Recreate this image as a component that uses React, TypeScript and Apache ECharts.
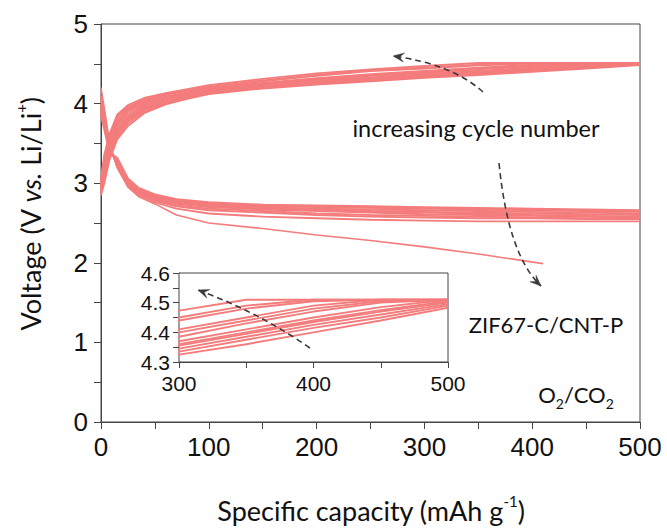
import React, { useEffect, useRef } from 'react';
import * as echarts from 'echarts';

// Charge curves (capacity in mAh g-1, voltage in V), cycle 1 (lowest) -> last (highest)
const chargeCapacity = [0, 3, 8, 15, 25, 40, 60, 80, 100, 150, 200, 250, 300, 350, 400, 450, 500];
const chargeCycles: number[][] = [
  [2.85, 3.0, 3.3, 3.55, 3.72, 3.88, 3.99, 4.06, 4.12, 4.19, 4.24, 4.28, 4.325, 4.36, 4.4, 4.44, 4.483],
  [2.88, 3.04, 3.34, 3.58, 3.75, 3.9, 4.0, 4.07, 4.13, 4.2, 4.25, 4.29, 4.335, 4.375, 4.415, 4.45, 4.49],
  [2.9, 3.08, 3.37, 3.61, 3.78, 3.92, 4.01, 4.08, 4.13, 4.2, 4.26, 4.3, 4.345, 4.385, 4.425, 4.46, 4.495],
  [2.92, 3.1, 3.4, 3.64, 3.8, 3.94, 4.02, 4.09, 4.14, 4.21, 4.27, 4.31, 4.355, 4.395, 4.435, 4.47, 4.5],
  [2.93, 3.12, 3.42, 3.66, 3.82, 3.95, 4.03, 4.1, 4.15, 4.22, 4.28, 4.32, 4.36, 4.4, 4.44, 4.475, 4.505],
  [2.95, 3.15, 3.45, 3.69, 3.84, 3.97, 4.05, 4.11, 4.16, 4.23, 4.29, 4.33, 4.37, 4.41, 4.45, 4.485, 4.51],
  [2.97, 3.18, 3.48, 3.72, 3.87, 3.99, 4.06, 4.12, 4.17, 4.24, 4.3, 4.35, 4.385, 4.43, 4.47, 4.5, 4.51],
  [2.98, 3.21, 3.51, 3.75, 3.9, 4.01, 4.08, 4.13, 4.18, 4.25, 4.31, 4.36, 4.4, 4.44, 4.48, 4.505, 4.51],
  [3.0, 3.24, 3.54, 3.78, 3.92, 4.02, 4.09, 4.14, 4.19, 4.26, 4.32, 4.37, 4.41, 4.45, 4.49, 4.51, 4.51],
  [3.02, 3.28, 3.57, 3.81, 3.94, 4.04, 4.11, 4.16, 4.2, 4.28, 4.35, 4.41, 4.44, 4.48, 4.505, 4.51, 4.51],
  [3.03, 3.31, 3.6, 3.84, 3.96, 4.05, 4.12, 4.17, 4.21, 4.29, 4.36, 4.42, 4.45, 4.49, 4.51, 4.51, 4.51],
  [3.05, 3.35, 3.62, 3.86, 3.98, 4.07, 4.13, 4.18, 4.23, 4.31, 4.38, 4.43, 4.473, 4.51, 4.51, 4.51, 4.51],
];

// Discharge curves
const dischargeCapacity = [0, 3, 8, 15, 25, 35, 50, 70, 100, 150, 200, 250, 300, 350, 400, 450, 500];
const dischargeCycles: number[][] = [
  [4.1, 3.9, 3.48, 3.2, 2.96, 2.85, 2.76, 2.68, 2.62, 2.58, 2.56, 2.54, 2.53, 2.52, 2.52, 2.52, 2.52],
  [4.05, 3.88, 3.46, 3.22, 2.98, 2.86, 2.78, 2.71, 2.66, 2.63, 2.6, 2.58, 2.57, 2.56, 2.56, 2.55, 2.55],
  [4.0, 3.85, 3.45, 3.23, 2.99, 2.87, 2.79, 2.72, 2.68, 2.65, 2.62, 2.6, 2.59, 2.58, 2.57, 2.56, 2.56],
  [3.98, 3.82, 3.44, 3.25, 3.0, 2.88, 2.8, 2.74, 2.7, 2.67, 2.65, 2.63, 2.61, 2.6, 2.59, 2.58, 2.57],
  [3.95, 3.8, 3.43, 3.26, 3.01, 2.89, 2.81, 2.75, 2.71, 2.68, 2.66, 2.64, 2.63, 2.62, 2.6, 2.59, 2.58],
  [3.93, 3.78, 3.42, 3.27, 3.02, 2.9, 2.82, 2.76, 2.72, 2.69, 2.67, 2.65, 2.64, 2.63, 2.62, 2.61, 2.6],
  [3.9, 3.75, 3.41, 3.28, 3.03, 2.91, 2.83, 2.77, 2.73, 2.7, 2.68, 2.67, 2.66, 2.65, 2.64, 2.63, 2.62],
  [3.88, 3.72, 3.4, 3.3, 3.04, 2.92, 2.84, 2.78, 2.74, 2.71, 2.7, 2.69, 2.68, 2.67, 2.66, 2.65, 2.64],
  [3.86, 3.7, 3.39, 3.31, 3.05, 2.93, 2.85, 2.79, 2.75, 2.72, 2.71, 2.7, 2.69, 2.68, 2.67, 2.66, 2.65],
  [3.85, 3.68, 3.38, 3.32, 3.06, 2.94, 2.86, 2.8, 2.76, 2.73, 2.72, 2.71, 2.7, 2.69, 2.68, 2.67, 2.66],
];
const firstDischargeCapacity = [0, 3, 8, 15, 25, 35, 50, 70, 100, 150, 200, 250, 300, 350, 410];
const firstDischargeVoltage = [4.2, 3.95, 3.5, 3.2, 2.95, 2.83, 2.74, 2.6, 2.5, 2.43, 2.35, 2.28, 2.2, 2.11, 1.99];

// Tick labels
const mainXLabels = [0, 100, 200, 300, 400, 500];
const mainYLabels = [0, 1, 2, 3, 4, 5];
const insetXLabels = [300, 400, 500];
const insetYLabels = ['4.3', '4.4', '4.5', '4.6'];

const CURVE = '#F47C7C';
const AXIS = '#444';
const TXT = '#111';
const NUM_FONT = '"Liberation Sans", Arial, sans-serif';
const WORD_FONT = 'Lato, "Open Sans", sans-serif';
const LW = 1.9;

function head(tx: number, ty: number, fx: number, fy: number, len = 11, half = 4.5) {
  const dx = tx - fx, dy = ty - fy;
  const d = Math.hypot(dx, dy);
  const ux = dx / d, uy = dy / d;
  const bx = tx - ux * len, by = ty - uy * len;
  const ix = tx - ux * len * 0.6, iy = ty - uy * len * 0.6;
  return [[tx, ty], [bx - uy * half, by + ux * half], [ix, iy], [bx + uy * half, by - ux * half]];
}

function dashedArrow(x1: number, y1: number, cx: number, cy: number, x2: number, y2: number) {
  return [
    {
      type: 'bezierCurve',
      shape: { x1, y1, x2, y2, cpx1: cx, cpy1: cy },
      style: { stroke: '#3a3a3a', lineWidth: 1.6, lineDash: [6, 4], fill: null },
      silent: true,
      z: 10,
    },
    {
      type: 'polygon',
      shape: { points: head(x2, y2, cx, cy) },
      style: { fill: '#3a3a3a', stroke: '#3a3a3a', lineWidth: 0.5 },
      silent: true,
      z: 10,
    },
  ];
}

export default function App() {
  const ref = useRef<HTMLDivElement>(null);
  useEffect(() => {
    if (!ref.current) return;
    const chart = echarts.init(ref.current, undefined, { renderer: 'svg' });

    const series: any[] = [];
    chargeCycles.forEach((vals) => {
      const data = chargeCapacity.map((c, i) => [c, vals[i]]);
      series.push({ type: 'line', xAxisIndex: 0, yAxisIndex: 0, data, showSymbol: false, silent: true, lineStyle: { color: CURVE, width: LW }, itemStyle: { color: CURVE } });
      series.push({ type: 'line', xAxisIndex: 1, yAxisIndex: 1, data, showSymbol: false, silent: true, clip: true, lineStyle: { color: CURVE, width: LW }, itemStyle: { color: CURVE }, z: 5 });
    });
    dischargeCycles.forEach((vals) => {
      const data = dischargeCapacity.map((c, i) => [c, vals[i]]);
      series.push({ type: 'line', xAxisIndex: 0, yAxisIndex: 0, data, showSymbol: false, silent: true, lineStyle: { color: CURVE, width: LW }, itemStyle: { color: CURVE } });
    });
    series.push({
      type: 'line', xAxisIndex: 0, yAxisIndex: 0,
      data: firstDischargeCapacity.map((c, i) => [c, firstDischargeVoltage[i]]),
      showSymbol: false, silent: true, lineStyle: { color: CURVE, width: 1.6 }, itemStyle: { color: CURVE },
    });

    const axisCommon = {
      type: 'value',
      axisLine: { show: true, lineStyle: { color: AXIS, width: 1 } },
      splitLine: { show: false },
    };

    const option: any = {
      animation: false,
      backgroundColor: '#fff',
      grid: [
        { left: 101, top: 24, width: 539, height: 398, show: true, borderColor: AXIS, borderWidth: 1, backgroundColor: 'transparent' },
        { left: 179, top: 273, width: 269, height: 89, show: true, borderColor: AXIS, borderWidth: 1, backgroundColor: '#fff', z: 3 },
      ],
      xAxis: [
        {
          ...axisCommon, gridIndex: 0, min: 0, max: 500, interval: 50,
          axisTick: { show: true, inside: false, length: 7, lineStyle: { color: AXIS } },
          axisLabel: {
            fontSize: 26, fontFamily: NUM_FONT, color: TXT, margin: 12,
            formatter: (v: number) => (mainXLabels.includes(Math.round(v)) ? String(Math.round(v)) : ''),
          },
        },
        {
          ...axisCommon, gridIndex: 1, min: 300, max: 500, interval: 50,
          axisTick: { show: true, inside: false, length: 6, lineStyle: { color: AXIS } },
          axisLabel: {
            fontSize: 21, fontFamily: NUM_FONT, color: TXT, margin: 11,
            formatter: (v: number) => (insetXLabels.includes(Math.round(v)) ? String(Math.round(v)) : ''),
          },
        },
      ],
      yAxis: [
        {
          ...axisCommon, gridIndex: 0, min: 0, max: 5, interval: 0.5,
          axisTick: { show: true, inside: false, length: 7, lineStyle: { color: AXIS } },
          axisLabel: {
            fontSize: 26, fontFamily: NUM_FONT, color: TXT, margin: 13,
            formatter: (v: number) => {
              const r = Math.round(v * 10) / 10;
              return mainYLabels.includes(r) ? String(r) : '';
            },
          },
        },
        {
          ...axisCommon, gridIndex: 1, min: 4.3, max: 4.6, interval: 0.05,
          axisTick: { show: true, inside: false, length: 6, lineStyle: { color: AXIS } },
          axisLabel: {
            fontSize: 21, fontFamily: NUM_FONT, color: TXT, margin: 9, showMinLabel: true, showMaxLabel: true,
            formatter: (v: number) => {
              const s = (Math.round(v * 100) / 100).toFixed(2);
              const t = (Math.round(v * 10) / 10).toFixed(1);
              return Math.abs(parseFloat(s) - parseFloat(t)) < 1e-6 && insetYLabels.includes(t) ? t : '';
            },
          },
        },
      ],
      series,
      graphic: [
        {
          type: 'text', x: 30, y: 214, rotation: Math.PI / 2, silent: true,
          style: {
            text: 'Voltage (V {i|vs.} Li/Li{sup|+})',
            fontSize: 27, fontFamily: WORD_FONT, fill: TXT,
            align: 'center', verticalAlign: 'middle', textAlign: 'center', textVerticalAlign: 'middle',
            lineHeight: 34,
            rich: {
              i: { fontSize: 27, fontFamily: WORD_FONT, fontStyle: 'italic', fill: TXT, lineHeight: 34 },
              sup: { fontSize: 15, fontFamily: WORD_FONT, fill: TXT, lineHeight: 15, verticalAlign: 'top' },
            },
          },
        },
        {
          type: 'text', x: 371, y: 510, silent: true,
          style: {
            text: 'Specific capacity (mAh g{sup|-1})',
            fontSize: 27, fontFamily: WORD_FONT, fill: TXT,
            align: 'center', verticalAlign: 'middle', textAlign: 'center', textVerticalAlign: 'middle',
            lineHeight: 34,
            rich: {
              sup: { fontSize: 15, fontFamily: WORD_FONT, fill: TXT, lineHeight: 15, verticalAlign: 'top' },
            },
          },
        },
        {
          type: 'text', x: 476, y: 128, silent: true,
          style: {
            text: 'increasing cycle number', fontSize: 23.5, fontFamily: WORD_FONT, fill: TXT,
            align: 'center', verticalAlign: 'middle', textAlign: 'center', textVerticalAlign: 'middle',
          },
        },
        {
          type: 'text', x: 546, y: 324, silent: true,
          style: {
            text: 'ZIF67-C/CNT-P', fontSize: 22, fontFamily: WORD_FONT, fill: TXT,
            align: 'center', verticalAlign: 'middle', textAlign: 'center', textVerticalAlign: 'middle',
          },
        },
        {
          type: 'text', x: 576, y: 394, silent: true,
          style: {
            text: 'O{sub|2}/CO{sub|2}', fontSize: 22, fontFamily: WORD_FONT, fill: TXT,
            align: 'center', verticalAlign: 'middle', textAlign: 'center', textVerticalAlign: 'middle',
            lineHeight: 32,
            rich: {
              sub: { fontSize: 14, fontFamily: WORD_FONT, fill: TXT, lineHeight: 14, verticalAlign: 'bottom' },
            },
          },
        },
        ...dashedArrow(483, 92, 452, 64, 393, 56),
        ...dashedArrow(499, 163, 508, 255, 541, 286),
        ...dashedArrow(310, 348, 258, 312, 198, 290),
      ],
    };
    chart.setOption(option);
    return () => chart.dispose();
  }, []);

  return <div ref={ref} style={{ position: 'fixed', left: 0, top: 0, width: 667, height: 529, background: '#fff' }} />;
}
